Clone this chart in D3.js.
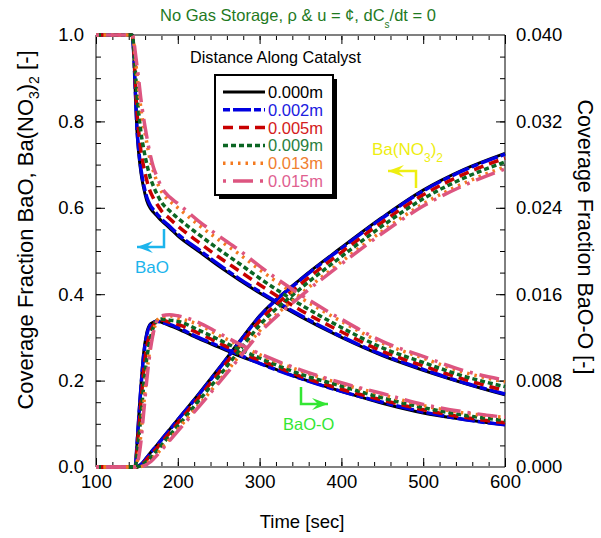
<!DOCTYPE html>
<html>
<head>
<meta charset="utf-8">
<script src="https://cdn.jsdelivr.net/npm/d3@7"></script>
<style>
body { margin: 0; background: #fff; }
text { font-family: "Liberation Sans", Arial, sans-serif; }
</style>
</head>
<body>
<svg id="chart" width="601" height="538"></svg>
<script>
// ---- data ----
const time = [100, 140, 144, 146, 148, 150, 152, 155, 158, 162, 166, 170, 175, 180, 190, 200, 225, 250, 275, 300, 350, 400, 450, 500, 550, 600];

const distances = ["0.000m", "0.002m", "0.005m", "0.009m", "0.013m", "0.015m"];
const colors = ["#000000", "#0000e0", "#c80000", "#0b6623", "#f47a20", "#dd5580"];
const textColors = ["#000000", "#2020e0", "#d42020", "#2a8040", "#f08030", "#e06090"];

// BaO coverage (left axis)
const bao000 = [1, 1, 1, 0.96, 0.87, 0.78, 0.73, 0.68, 0.648, 0.617, 0.600, 0.590, 0.58, 0.57, 0.553, 0.535, 0.50, 0.465, 0.433, 0.403, 0.348, 0.300, 0.258, 0.224, 0.194, 0.167];
const bao002 = [1, 1, 1, 0.962, 0.875, 0.788, 0.739, 0.689, 0.656, 0.625, 0.607, 0.596, 0.585, 0.574, 0.557, 0.539, 0.504, 0.469, 0.436, 0.406, 0.351, 0.302, 0.260, 0.226, 0.195, 0.169];
const bao005 = [1, 1, 1, 0.969, 0.897, 0.825, 0.781, 0.731, 0.698, 0.664, 0.639, 0.623, 0.607, 0.593, 0.575, 0.558, 0.521, 0.486, 0.454, 0.422, 0.363, 0.313, 0.268, 0.234, 0.203, 0.177];
const bao009 = [1, 1, 1, 0.977, 0.920, 0.863, 0.824, 0.774, 0.739, 0.702, 0.672, 0.651, 0.630, 0.613, 0.593, 0.576, 0.539, 0.504, 0.471, 0.437, 0.376, 0.323, 0.276, 0.242, 0.210, 0.186];
const bao013 = [1, 1, 1, 0.986, 0.948, 0.911, 0.878, 0.828, 0.792, 0.752, 0.713, 0.686, 0.658, 0.638, 0.616, 0.600, 0.561, 0.526, 0.493, 0.457, 0.392, 0.337, 0.287, 0.252, 0.219, 0.197];
const bao015 = [1, 1, 1, 0.99, 0.96, 0.93, 0.90, 0.85, 0.81, 0.765, 0.725, 0.695, 0.67, 0.648, 0.625, 0.61, 0.57, 0.535, 0.502, 0.465, 0.399, 0.342, 0.291, 0.256, 0.223, 0.201];

// Ba(NO3)2 coverage (left axis)
const nit000 = [0, 0, 0, 0, 0, 0, 0.002, 0.006, 0.012, 0.022, 0.032, 0.041, 0.052, 0.064, 0.087, 0.110, 0.168, 0.228, 0.290, 0.350, 0.435, 0.508, 0.578, 0.641, 0.689, 0.726];
const nit002 = [0, 0, 0, 0, 0, 0, 0.002, 0.006, 0.012, 0.021, 0.031, 0.040, 0.051, 0.063, 0.086, 0.109, 0.166, 0.226, 0.288, 0.348, 0.433, 0.506, 0.576, 0.639, 0.687, 0.724];
const nit005 = [0, 0, 0, 0, 0, 0, 0.001, 0.004, 0.009, 0.017, 0.026, 0.034, 0.045, 0.057, 0.079, 0.102, 0.159, 0.218, 0.279, 0.338, 0.423, 0.497, 0.567, 0.630, 0.678, 0.715];
const nit009 = [0, 0, 0, 0, 0, 0, 0.001, 0.003, 0.007, 0.013, 0.020, 0.028, 0.039, 0.050, 0.073, 0.095, 0.152, 0.209, 0.269, 0.328, 0.413, 0.487, 0.558, 0.621, 0.669, 0.706];
const nit013 = [0, 0, 0, 0, 0, 0, 0, 0.001, 0.003, 0.008, 0.014, 0.021, 0.031, 0.042, 0.064, 0.087, 0.142, 0.198, 0.257, 0.315, 0.400, 0.475, 0.546, 0.609, 0.657, 0.695];
const nit015 = [0, 0, 0, 0, 0, 0, 0, 0, 0.002, 0.006, 0.011, 0.018, 0.028, 0.039, 0.061, 0.083, 0.138, 0.194, 0.252, 0.310, 0.395, 0.470, 0.541, 0.604, 0.652, 0.690];

// BaO-O coverage (right axis)
const baoo000 = [0, 0, 0, 0, 0.0001, 0.0020, 0.0044, 0.0076, 0.0104, 0.0124, 0.0132, 0.0134, 0.0135, 0.0134, 0.0131, 0.0128, 0.0119, 0.0111, 0.0103, 0.0096, 0.0082, 0.0070, 0.0059, 0.0050, 0.0044, 0.0039];
const baoo002 = [0, 0, 0, 0, 0.0001, 0.0019, 0.0042, 0.0074, 0.0101, 0.0122, 0.0131, 0.0134, 0.0135, 0.0134, 0.0132, 0.0129, 0.0120, 0.0112, 0.0104, 0.0096, 0.0082, 0.0070, 0.0060, 0.0051, 0.0044, 0.0039];
const baoo005 = [0, 0, 0, 0, 0.0001, 0.0015, 0.0033, 0.0060, 0.0087, 0.0111, 0.0124, 0.0131, 0.0136, 0.0136, 0.0134, 0.0132, 0.0124, 0.0115, 0.0106, 0.0099, 0.0084, 0.0072, 0.0062, 0.0053, 0.0046, 0.0041];
const baoo009 = [0, 0, 0, 0, 0, 0.0010, 0.0024, 0.0048, 0.0073, 0.0100, 0.0118, 0.0129, 0.0136, 0.0137, 0.0136, 0.0135, 0.0127, 0.0118, 0.0109, 0.0101, 0.0086, 0.0075, 0.0064, 0.0055, 0.0048, 0.0043];
const baoo013 = [0, 0, 0, 0, 0, 0.0004, 0.0013, 0.0031, 0.0055, 0.0086, 0.0109, 0.0125, 0.0136, 0.0139, 0.0140, 0.0138, 0.0132, 0.0122, 0.0113, 0.0104, 0.0089, 0.0077, 0.0067, 0.0057, 0.0050, 0.0046];
const baoo015 = [0, 0, 0, 0, 0, 0.0002, 0.0008, 0.0024, 0.0048, 0.0080, 0.0106, 0.0124, 0.0136, 0.0140, 0.0141, 0.0140, 0.0134, 0.0124, 0.0114, 0.0105, 0.0090, 0.0078, 0.0068, 0.0058, 0.0051, 0.0046];

const xTicks = [100, 200, 300, 400, 500, 600];
const yLeftTicks = [0, 0.2, 0.4, 0.6, 0.8, 1.0];
const yRightTicks = [0, 0.008, 0.016, 0.024, 0.032, 0.040];

const baoSeries = [bao000, bao002, bao005, bao009, bao013, bao015];
const nitSeries = [nit000, nit002, nit005, nit009, nit013, nit015];
const baooSeries = [baoo000, baoo002, baoo005, baoo009, baoo013, baoo015];

// line styles
const dashes = [null, "7,3,18,3", "10,6", "5,3", "2.5,5", "3,7,20,7"];
const widths = [3, 3.5, 3.5, 3.5, 3.5, 3.5];

var svg = d3.select("#chart"),
	plotL = 96, plotR = 505, plotT = 35, plotB = 467;

var x = d3.scaleLinear().domain([100, 600]).range([plotL, plotR]);
var yL = d3.scaleLinear().domain([0, 1]).range([plotB, plotT]);
var yR = d3.scaleLinear().domain([0, 0.04]).range([plotB, plotT]);

// ---- axes ----
function styleAxis(g) {
	g.select(".domain").remove();
	g.selectAll("line").attr("stroke", "#000");
	g.selectAll("text").attr("font-size", "18.5px").attr("fill", "#000")
		.attr("font-family", "'Liberation Sans', Arial, sans-serif");
}

svg.append("g")
	.attr("transform", "translate(0," + plotB + ")")
	.call(d3.axisBottom(x).tickValues(d3.range(100, 601, 20)).tickSize(-5).tickFormat(""))
	.call(styleAxis);
svg.append("g")
	.attr("transform", "translate(0," + plotB + ")")
	.call(d3.axisBottom(x).tickValues(xTicks).tickSize(-9).tickPadding(8).tickFormat(d3.format("d")))
	.call(styleAxis);
svg.append("g")
	.attr("transform", "translate(0," + plotT + ")")
	.call(d3.axisTop(x).tickValues(d3.range(100, 601, 20)).tickSize(-5).tickFormat(""))
	.call(styleAxis);
svg.append("g")
	.attr("transform", "translate(0," + plotT + ")")
	.call(d3.axisTop(x).tickValues(xTicks).tickSize(-9).tickFormat(""))
	.call(styleAxis);

svg.append("g")
	.attr("transform", "translate(" + plotL + ",0)")
	.call(d3.axisLeft(yL).tickValues(d3.range(0, 1.001, 0.05)).tickSize(-5).tickFormat(""))
	.call(styleAxis);
svg.append("g")
	.attr("transform", "translate(" + plotL + ",0)")
	.call(d3.axisLeft(yL).tickValues(yLeftTicks).tickSize(-9).tickPadding(12).tickFormat(d3.format(".1f")))
	.call(styleAxis);

svg.append("g")
	.attr("transform", "translate(" + plotR + ",0)")
	.call(d3.axisRight(yR).tickValues(d3.range(0, 0.0401, 0.002)).tickSize(-5).tickFormat(""))
	.call(styleAxis);
svg.append("g")
	.attr("transform", "translate(" + plotR + ",0)")
	.call(d3.axisRight(yR).tickValues(yRightTicks).tickSize(-9).tickPadding(11).tickFormat(d3.format(".3f")))
	.call(styleAxis);

// frame
svg.append("line").attr("x1", plotL).attr("x2", plotR).attr("y1", plotT).attr("y2", plotT).attr("stroke", "#808080").attr("stroke-width", 2);
svg.append("line").attr("x1", plotL).attr("x2", plotR).attr("y1", plotB).attr("y2", plotB).attr("stroke", "#808080").attr("stroke-width", 2);
svg.append("line").attr("x1", plotL).attr("x2", plotL).attr("y1", plotT).attr("y2", plotB).attr("stroke", "#000").attr("stroke-width", 1);
svg.append("line").attr("x1", plotR).attr("x2", plotR).attr("y1", plotT).attr("y2", plotB).attr("stroke", "#000").attr("stroke-width", 1);

// ---- curves ----
var lineL = d3.line().x(function(d, i) { return x(time[i]); }).y(function(d) { return yL(d); }).curve(d3.curveMonotoneX);
var lineR = d3.line().x(function(d, i) { return x(time[i]); }).y(function(d) { return yR(d); }).curve(d3.curveMonotoneX);

var curves = svg.append("g").attr("fill", "none");
for (var i = 0; i < distances.length; i++) {
	[[baoSeries[i], lineL], [nitSeries[i], lineL], [baooSeries[i], lineR]].forEach(function(s) {
		curves.append("path")
			.datum(s[0])
			.attr("stroke", colors[i])
			.attr("stroke-width", widths[i])
			.attr("stroke-dasharray", dashes[i])
			.attr("d", s[1]);
	});
}

// ---- legend ----
svg.append("text").attr("x", 190).attr("y", 63).attr("font-size", "16.2px").text("Distance Along Catalyst");
svg.append("rect").attr("x", 219).attr("y", 79).attr("width", 118).attr("height", 120).attr("fill", "#000");
svg.append("rect").attr("x", 215).attr("y", 75).attr("width", 118).attr("height", 120).attr("fill", "#fff").attr("stroke", "#000").attr("stroke-width", 2);
var leg = svg.append("g");
distances.forEach(function(d, i) {
	var yy = 92 + i * 17.8;
	leg.append("line").attr("x1", 223).attr("x2", 265).attr("y1", yy).attr("y2", yy)
		.attr("stroke", colors[i]).attr("stroke-width", widths[i]).attr("stroke-dasharray", dashes[i]);
	leg.append("text").attr("x", 268).attr("y", yy).attr("dy", "0.36em").attr("font-size", "16.5px")
		.attr("fill", textColors[i]).text(d);
});

// ---- titles ----
var title = svg.append("text").attr("x", 298).attr("y", 21).attr("text-anchor", "middle")
	.attr("font-size", "16.5px").attr("fill", "#1f7a1f");
title.append("tspan").text("No Gas Storage, \u03C1 & u = \u00A2, dC");
title.append("tspan").attr("font-size", "10px").attr("dy", 7).text("s");
title.append("tspan").attr("dy", -7).text("/dt = 0");

var yLab = svg.append("text").attr("transform", "translate(33,230) rotate(-90)").attr("text-anchor", "middle").attr("font-size", "22px");
yLab.append("tspan").text("Coverage Fraction BaO, Ba(NO");
yLab.append("tspan").attr("font-size", "14px").attr("dy", 6).text("3");
yLab.append("tspan").attr("dy", -6).text(")");
yLab.append("tspan").attr("font-size", "14px").attr("dy", 6).text("2");
yLab.append("tspan").attr("dy", -6).text(" [-]");

svg.append("text").attr("transform", "translate(578,237) rotate(90)").attr("text-anchor", "middle")
	.attr("font-size", "21.5px").text("Coverage Fraction BaO-O [-]");

svg.append("text").attr("x", 302).attr("y", 528).attr("text-anchor", "middle").attr("font-size", "18.5px").text("Time [sec]");

// ---- annotations ----
function arrow(pts, color) {
	svg.append("path").attr("d", d3.line()(pts)).attr("fill", "none").attr("stroke", color).attr("stroke-width", 2.5);
	var tip = pts[pts.length - 1], prev = pts[pts.length - 2];
	var dir = Math.sign(tip[0] - prev[0]);
	var head = [[tip[0], tip[1]], [tip[0] - dir * 16, tip[1] - 6], [tip[0] - dir * 10, tip[1]], [tip[0] - dir * 16, tip[1] + 6]];
	svg.append("path").attr("d", d3.line()(head) + "Z").attr("fill", color);
}

arrow([[164, 229], [164, 247], [137, 247]], "#1cb4ec");
svg.append("text").attr("x", 135).attr("y", 273).attr("font-size", "17px").attr("fill", "#1cb4ec").text("BaO");

arrow([[416, 188], [416, 171], [388, 171]], "#eeee11");
var nitLab = svg.append("text").attr("x", 372).attr("y", 155).attr("font-size", "17px").attr("fill", "#eeee11");
nitLab.append("tspan").text("Ba(NO");
nitLab.append("tspan").attr("font-size", "12px").attr("dy", 7).text("3");
nitLab.append("tspan").attr("dy", -7).text(")");
nitLab.append("tspan").attr("font-size", "12px").attr("dy", 7).text("2");

arrow([[301, 387], [301, 404], [328, 404]], "#33e633");
svg.append("text").attr("x", 283).attr("y", 430).attr("font-size", "16.5px").attr("fill", "#33e633").text("BaO-O");
</script>
</body>
</html>
